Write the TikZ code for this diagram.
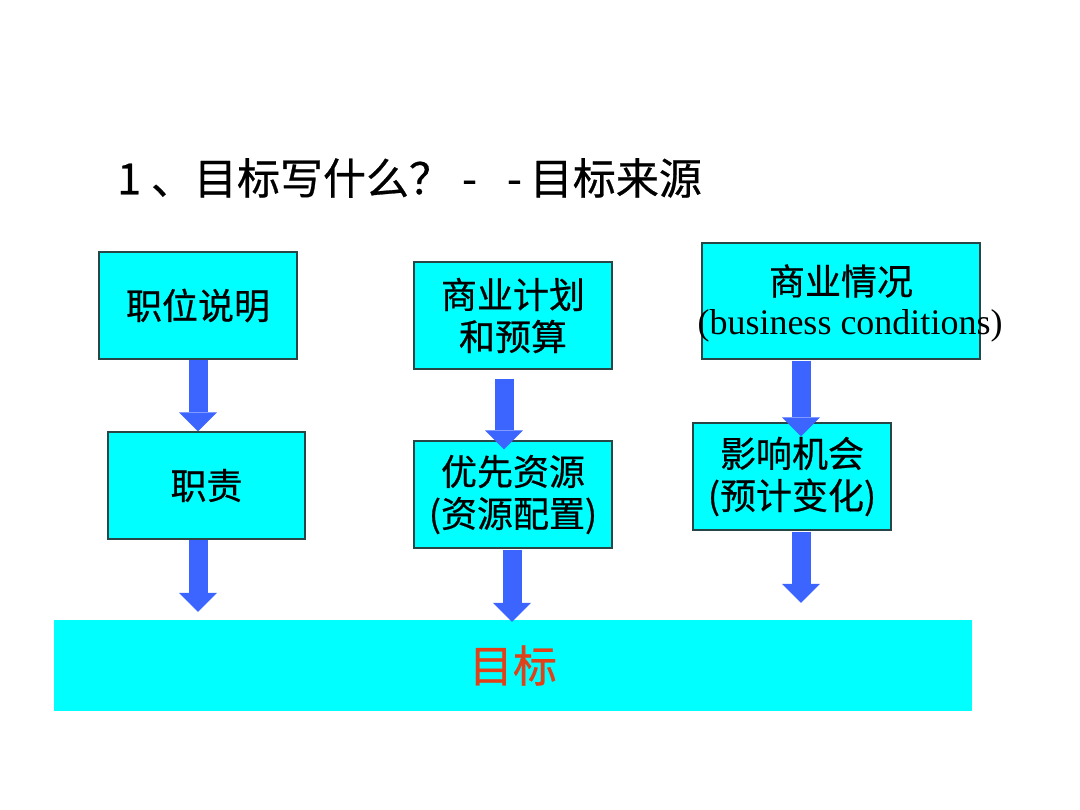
\documentclass[tikz,border=0pt]{standalone}
\usepackage{fontspec}
\setmainfont{Noto Sans CJK SC}[FakeBold=0.6]
\newfontfamily\tnr{Liberation Serif}
\usetikzlibrary{arrows.meta,calc}
\definecolor{boxcyan}{RGB}{0,255,255}
\definecolor{boxedge}{RGB}{40,70,70}
\definecolor{arrblue}{RGB}{60,100,255}
\definecolor{goalred}{RGB}{225,65,25}
\tikzset{
  box/.style={draw=boxedge, line width=1.2pt, fill=boxcyan, inner sep=0pt, align=center,
    font=\fontsize{36}{42}\selectfont},
  blk/.style={draw=arrblue, line width=19pt,
    -{Triangle[width=38pt,length=19pt,line width=0pt]}}
}
\begin{document}
\begin{tikzpicture}[x=1pt,y=-1pt]
\fill[white] (0,0) rectangle (1080,810);
\useasboundingbox (0,0) rectangle (1080,810);

\node[anchor=west, inner sep=0pt, font=\fontsize{43}{48}\selectfont] (title) at (117,178)
  {1\hspace{10pt}、目标写什么？\hspace{10pt}-\hspace{30pt}-\hspace{8pt}目标来源};

\node[box, minimum width=198pt, minimum height=107pt] (zwsm) at (198,305.5) {职位说明};
\node[box, minimum width=197pt, minimum height=107pt] (zz) at (206.5,485.5) {职责};
\node[box, minimum width=198pt, minimum height=107pt] (sy) at (513,315.5) {商业计划\\和预算};
\node[box, minimum width=198pt, minimum height=107pt] (yx) at (513,494.5) {优先资源\\(资源配置)};
\node[box, minimum width=278pt, minimum height=116pt] (qk) at (841,301) {};
\node[inner sep=0pt, font=\fontsize{36}{42}\selectfont] (qkt) at (841,281) {商业情况};
\node[inner sep=0pt, font=\tnr\fontsize{36}{40}\selectfont] (qke) at (850,326) {(business conditions)};
\node[box, minimum width=198pt, minimum height=107pt] (yxjh) at (792,476.5) {影响机会\\(预计变化)};
\node[fill=boxcyan, inner sep=0pt, minimum width=918pt, minimum height=91pt,
  text=goalred, font=\fontsize{44}{48}\selectfont] (mb) at (513,665.5) {目标};

\draw[blk] (zwsm.south) -- (zwsm.south |- zz.north);
\draw[blk] ($(zz.south)+(-8.5,0)$) -- ($(zz.south |- mb.north)+(-8.5,-8)$);
\draw[blk] ($(sy.south)+(-9,9)$) -- ($(sy.south |- yx.north)+(-9,9)$);
\draw[blk] ($(yx.south)+(-1,1)$) -- ($(yx.south |- mb.north)+(-1,2)$);
\draw[blk] ($(qk.south)+(-40,1)$) -- ($(qk.south |- yxjh.north)+(-40,14)$);
\draw[blk] ($(yxjh.south)+(9,1)$) -- ($(yxjh.south |- mb.north)+(9,-17)$);
\end{tikzpicture}
\end{document}
